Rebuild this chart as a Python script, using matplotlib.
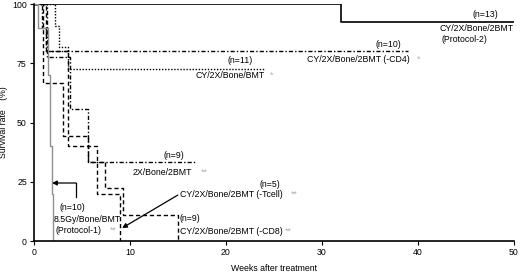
import matplotlib
matplotlib.use("Agg")
import matplotlib.pyplot as plt

plt.rcParams['font.family'] = ['Liberation Sans', 'DejaVu Sans']

# Data (weeks, survival %)
p2_t = [0, 32, 50];                 p2_s = [100, 92.3, 92.3]
cd4_t = [0, 0.9, 1.3, 39];          cd4_s = [100, 90, 80, 80]
bmt_t = [0, 2.2, 2.6, 3.6, 24];     bmt_s = [100, 90.9, 81.8, 72.7, 72.7]
x2_t = [0, 1.4, 3.75, 5.6, 16.8];   x2_s = [100, 77.8, 55.6, 33.3, 33.3]
tcell_t = [0, 1.3, 3.6, 6.6, 9.0];  tcell_s = [100, 80, 40, 20, 0]
cd8_t = [0, 1.0, 3.0, 5.6, 7.4, 9.3, 15.0]
cd8_s = [100, 66.7, 44.4, 33.3, 22.2, 11.1, 0]
p1_t = [0, 0.4, 1.5, 1.65, 1.85, 2.0]
p1_s = [100, 90, 70, 40, 20, 0]

x_ticks = [0, 10, 20, 30, 40, 50]
y_ticks = [0, 25, 50, 75, 100]

fig = plt.figure(figsize=(5.2, 2.73), dpi=100)
ax = fig.add_axes([0.065, 0.117, 0.923, 0.868])

k = 'black'
ax.step(p2_t, p2_s, where='post', color=k, lw=1.2)
ax.step(cd4_t, cd4_s, where='post', color=k, lw=1.0, linestyle=(0, (3, 1.5, 1, 1.5)))
ax.step(bmt_t, bmt_s, where='post', color=k, lw=1.0, linestyle=(0, (1, 1.2)))
ax.step(x2_t, x2_s, where='post', color=k, lw=1.0, linestyle=(0, (3, 1.5, 1, 1.5)))
ax.step(tcell_t, tcell_s, where='post', color=k, lw=1.0, linestyle=(0, (3, 2)))
ax.step(cd8_t, cd8_s, where='post', color=k, lw=1.0, linestyle=(0, (3, 2)))
ax.step(p1_t, p1_s, where='post', color='#909090', lw=1.0)

ax.set_xlim(0, 50)
ax.set_ylim(0, 100)
ax.set_xticks(x_ticks)
ax.set_yticks(y_ticks)
for s in ['top', 'right']:
    ax.spines[s].set_visible(False)
for s in ['left', 'bottom']:
    ax.spines[s].set_linewidth(1.2)
ax.tick_params(labelsize=6.3, length=3, width=0.8, pad=2)

fs = 6.3
g = '#b0b0b0'
ax.text(47, 95.4, '(n=13)', fontsize=fs, ha='center', va='center')
ax.text(46.1, 89.5, 'CY/2X/Bone/2BMT', fontsize=fs, ha='center', va='center')
ax.text(44.9, 85.2, '(Protocol-2)', fontsize=fs, ha='center', va='center')

ax.text(36.9, 83.1, '(n=10)', fontsize=fs, ha='center', va='center')
ax.text(28.5, 76.8, 'CY/2X/Bone/2BMT (-CD4)', fontsize=fs, ha='left', va='center')
ax.text(39.9, 76.8, '*', fontsize=fs, ha='left', va='center', color=g)

ax.text(21.5, 76.4, '(n=11)', fontsize=fs, ha='center', va='center')
ax.text(16.8, 70.0, 'CY/2X/Bone/BMT', fontsize=fs, ha='left', va='center')
ax.text(24.6, 70.0, '*', fontsize=fs, ha='left', va='center', color=g)

ax.text(14.6, 36.3, '(n=9)', fontsize=fs, ha='center', va='center')
ax.text(10.3, 29.0, '2X/Bone/2BMT', fontsize=fs, ha='left', va='center')
ax.text(17.4, 29.0, '**', fontsize=fs, ha='left', va='center', color=g)

ax.text(24.6, 24.0, '(n=5)', fontsize=fs, ha='center', va='center')
ax.text(15.2, 19.8, 'CY/2X/Bone/2BMT (-Tcell)', fontsize=fs, ha='left', va='center')
ax.text(26.8, 19.8, '**', fontsize=fs, ha='left', va='center', color=g)

ax.text(15.2, 9.7, '(n=9)', fontsize=fs, ha='left', va='center')
ax.text(15.2, 4.2, 'CY/2X/Bone/2BMT (-CD8)', fontsize=fs, ha='left', va='center')
ax.text(26.2, 4.2, '**', fontsize=fs, ha='left', va='center', color=g)

ax.text(4.0, 14.0, '(n=10)', fontsize=fs, ha='center', va='center')
ax.text(5.6, 8.9, '8.5Gy/Bone/BMT', fontsize=fs, ha='center', va='center')
ax.text(2.3, 4.6, '(Protocol-1)', fontsize=fs, ha='left', va='center')
ax.text(7.9, 4.6, '**', fontsize=fs, ha='left', va='center', color=g)

# arrows
ax.plot([4.4, 4.4], [18.5, 24.5], color=k, lw=0.9)
ax.annotate('', xy=(1.9, 24.5), xytext=(4.4, 24.5),
            arrowprops=dict(arrowstyle='-|>', color=k, lw=0.9, mutation_scale=7,
                            shrinkA=0, shrinkB=0))
ax.annotate('', xy=(9.2, 5.5), xytext=(15.0, 19.4),
            arrowprops=dict(arrowstyle='-|>', color=k, lw=0.9, mutation_scale=7,
                            shrinkA=0, shrinkB=0))

ax.set_xlabel('Weeks after treatment', fontsize=6.3, labelpad=5)
ax.set_ylabel('Survival rate    (%)', fontsize=6.3, labelpad=3)

fig.savefig('out.png', dpi=100)
